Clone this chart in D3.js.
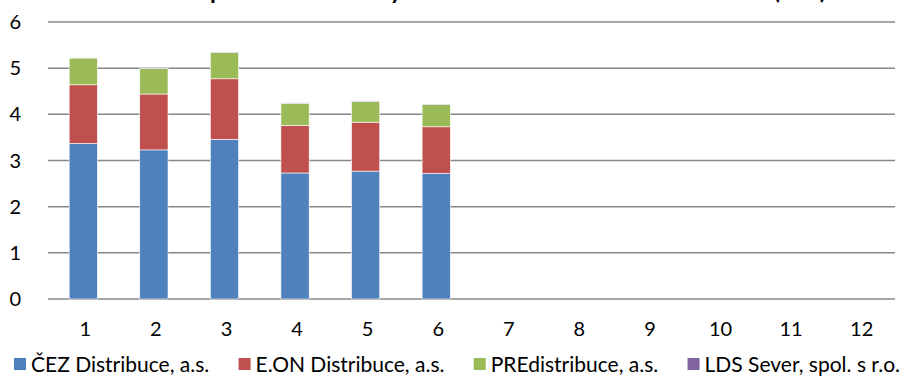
<!DOCTYPE html>
<html>
<head>
<meta charset="utf-8">
<script src="https://cdn.jsdelivr.net/npm/d3@7"></script>
<style>
  body { margin: 0; background: #fff; }
  svg text { font-family: Lato, "Open Sans", sans-serif; fill: #000; }
</style>
</head>
<body>
<svg id="chart" width="904" height="379"></svg>
<script>
// data
var months = ["1", "2", "3", "4", "5", "6", "7", "8", "9", "10", "11", "12"];
var seriesNames = ["ČEZ Distribuce, a.s.", "E.ON Distribuce, a.s.", "PREdistribuce, a.s.", "LDS Sever, spol. s r.o."];
var cez = [3.37, 3.23, 3.46, 2.73, 2.77, 2.72];
var eon = [1.27, 1.21, 1.31, 1.03, 1.06, 1.01];
var pre = [0.58, 0.55, 0.57, 0.48, 0.45, 0.48];
var lds = [0.01, 0.01, 0.01, 0.01, 0.01, 0.01];
var yTicks = [0, 1, 2, 3, 4, 5, 6];
var colors = ["#4F81BD", "#C0504D", "#9BBB59", "#8064A2"];
var title = "Průměrná doba přerušení dodávky na odběratele v distribučních sítích (hod)";

var svg = d3.select("#chart");
var plotL = 48, plotR = 895, plotT = 22, plotB = 299;

var x = d3.scaleBand().domain(months).range([plotL, plotR]).paddingInner(0.6).paddingOuter(0.3);
var y = d3.scaleLinear().domain([0, 6]).range([plotB, plotT]);

// title, cut off at the top edge like in the original (only descenders show)
var tt = svg.append("text")
  .attr("x", 0).attr("y", -1)
  .attr("font-size", "19px").attr("font-weight", "bold")
  .text(title);
var iP = title.indexOf("přer"), iY = title.indexOf("ky ") + 1;
var span = tt.node().getSubStringLength(iP, iY - iP);
var fs = 19 * 180 / span;
tt.attr("font-size", fs + "px");
var offP = tt.node().getSubStringLength(0, iP);
tt.attr("x", 210 - offP);

// gridlines
svg.append("g").selectAll("line").data(yTicks).enter().append("line")
  .attr("x1", plotL).attr("x2", plotR)
  .attr("y1", d => y(d)).attr("y2", d => y(d))
  .attr("stroke", "#888").attr("stroke-width", 1.5);

// y labels
svg.append("g").selectAll("text").data(yTicks).enter().append("text")
  .attr("x", 21).attr("y", d => y(d) + 7)
  .attr("text-anchor", "end")
  .attr("font-size", "20px")
  .text(d => d);

// stacked bars
var rows = cez.map((v, i) => ({ m: months[i], s0: v, s1: eon[i], s2: pre[i], s3: lds[i] }));
var stack = d3.stack().keys(["s0", "s1", "s2", "s3"])(rows);

svg.append("g").selectAll("g").data(stack).enter().append("g")
  .attr("fill", (d, i) => colors[i])
  .selectAll("rect").data(d => d).enter().append("rect")
  .attr("x", d => x(d.data.m))
  .attr("width", x.bandwidth())
  .attr("y", d => y(d[1]))
  .attr("height", d => y(d[0]) - y(d[1]))
  .attr("stroke", "#fff").attr("stroke-width", 0.6);

// x labels
svg.append("g").selectAll("text").data(months).enter().append("text")
  .attr("x", d => x(d) + x.bandwidth() / 2 + 2)
  .attr("y", 336)
  .attr("text-anchor", "middle")
  .attr("font-size", "20px")
  .text(d => d);

// legend: spread across the full width
var sq = 12, sqGap = 5, legL = 14, legR = 900;
var lg = svg.append("g").selectAll("g").data(seriesNames).enter().append("g");
lg.append("rect").attr("y", -14).attr("width", sq).attr("height", sq).attr("fill", (d, i) => colors[i]);
var lt = lg.append("text").attr("x", sq + sqGap).attr("y", 0).attr("font-size", "21px").text(d => d);
var widths = [];
lt.each(function() { widths.push(this.getComputedTextLength()); });
var used = d3.sum(widths) + seriesNames.length * (sq + sqGap);
var gap = Math.max(8, (legR - legL - used) / (seriesNames.length - 1));
var pos = legL;
lg.attr("transform", function(d, i) {
  var t = "translate(" + pos + ",372)";
  pos += sq + sqGap + widths[i] + gap;
  return t;
});
</script>
</body>
</html>
